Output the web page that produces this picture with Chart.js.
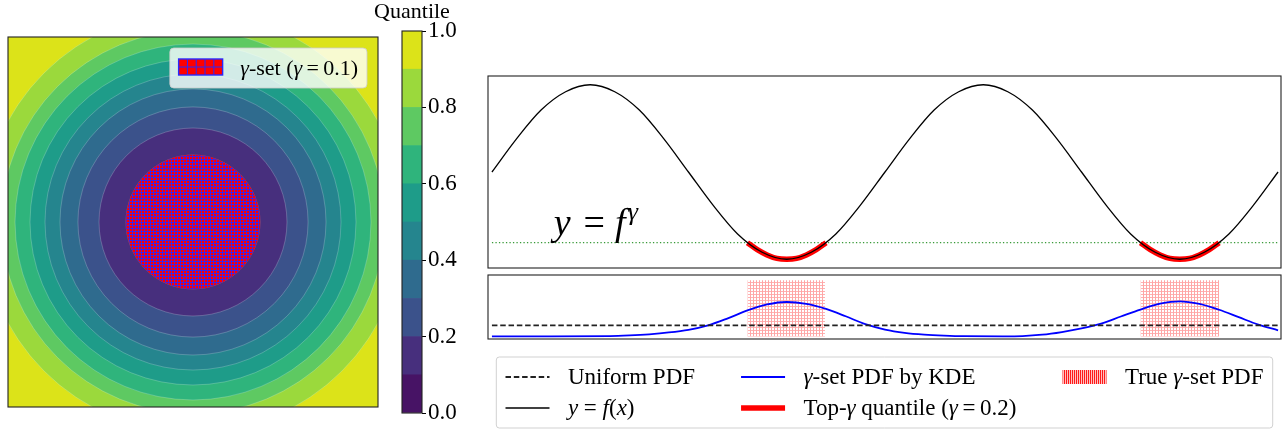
<!DOCTYPE html>
<html>
<head>
<meta charset="utf-8">
<script src="https://cdn.jsdelivr.net/npm/chart.js@4"></script>
<style>
  html, body { margin: 0; padding: 0; background: #fff; }
  body { width: 1283px; height: 432px; position: relative; overflow: hidden; }
  canvas { position: absolute; }
</style>
</head>
<body>
<canvas id="contour" width="390" height="432" style="left:0px;top:0px"></canvas>
<canvas id="cbar" width="110" height="432" style="left:360px;top:0px"></canvas>
<canvas id="curve" width="803" height="200" style="left:480px;top:70px"></canvas>
<canvas id="pdf" width="803" height="162" style="left:480px;top:270px"></canvas>
<script>
// left panel: quantile levels and the radius of each level boundary (axes run -1..1)
const quantileEdges = [0.0, 0.1, 0.2, 0.3, 0.4, 0.5, 0.6, 0.7, 0.8, 0.9, 1.0];
const ringRadius = [0.362, 0.508, 0.622, 0.719, 0.80, 0.881, 0.962, 1.036, 1.139, 1.5];
const bandColors = ['#471365', '#472f7d', '#3b528b', '#2f6b8e', '#25858e',
                    '#1e9c89', '#2fb47c', '#5ec962', '#9bd93c', '#dce319'];
const gammaSetRadius = 0.362;

// right top panel: y = f(x), in quarter periods
const curveX = [0, 0.25, 0.5, 0.75, 1, 1.25, 1.5, 1.75, 2, 2.25, 2.5, 2.75, 3, 3.25, 3.5, 3.75, 4,
                4.25, 4.5, 4.75, 5, 5.25, 5.5, 5.75, 6, 6.25, 6.5, 6.75, 7, 7.25, 7.5, 7.75, 8];
const curveY = [0, 0.38, 0.71, 0.92, 1, 0.92, 0.71, 0.38, 0, -0.38, -0.71, -0.92, -1, -0.92, -0.71, -0.38, 0,
                0.38, 0.71, 0.92, 1, 0.92, 0.71, 0.38, 0, -0.38, -0.71, -0.92, -1, -0.92, -0.71, -0.38, 0];
const topX1 = [2.6, 2.7, 2.8, 2.9, 3.0, 3.1, 3.2, 3.3, 3.4];
const topX2 = [6.6, 6.7, 6.8, 6.9, 7.0, 7.1, 7.2, 7.3, 7.4];
const topY = [-0.81, -0.89, -0.95, -0.99, -1, -0.99, -0.95, -0.89, -0.81];
const threshold = -0.81;

// right bottom panel: densities
const kdeX = [0, 0.6, 1.2, 1.4, 1.6, 1.8, 2.0, 2.2, 2.4, 2.6, 2.8, 3.0, 3.2, 3.4, 3.6, 3.8, 4.0, 4.2, 4.4, 4.6,
              4.8, 5.2, 5.4, 5.6, 5.8, 6.0, 6.2, 6.4, 6.6, 6.8, 7.0, 7.2, 7.4, 7.6, 7.8, 8.0];
const kdeY = [0.02, 0.02, 0.04, 0.1, 0.2, 0.36, 0.6, 1.0, 1.62, 2.32, 2.85, 3.07, 2.9, 2.45, 1.8, 1.1, 0.62, 0.33,
              0.17, 0.08, 0.03, 0.02, 0.04, 0.16, 0.4, 0.72, 1.15, 1.78, 2.4, 2.92, 3.13, 2.9, 2.38, 1.72, 1.06, 0.55];
const uniformPdf = 1.0;
const trueSetRanges = [[2.6, 3.39], [6.6, 7.4]];
const trueSetPdf = 5.0;

const SERIF = '"Liberation Serif", "DejaVu Serif", serif';
Chart.defaults.font.family = SERIF;
Chart.defaults.animation = false;
Chart.defaults.events = [];
Chart.defaults.plugins.legend.display = false;
Chart.defaults.plugins.tooltip.enabled = false;

function makePattern(w, h, draw) {
    const c = document.createElement('canvas');
    c.width = w; c.height = h;
    const g = c.getContext('2d');
    draw(g);
    return g.createPattern(c, 'repeat');
}
const gammaHatch = makePattern(3, 3, g => {
    g.fillStyle = '#ff0000'; g.fillRect(0, 0, 3, 3);
    g.fillStyle = 'rgba(40,40,255,0.85)'; g.fillRect(0, 0, 3, 1); g.fillRect(0, 0, 1, 3);
});
const trueHatch = makePattern(3, 3, g => {
    g.fillStyle = 'rgba(255,0,0,0.35)'; g.fillRect(0, 0, 1, 3);
    g.fillStyle = 'rgba(255,0,0,0.3)'; g.fillRect(1, 0, 2, 1);
});
const trueHatchLegend = makePattern(2, 1, g => {
    g.fillStyle = 'rgba(255,0,0,0.9)'; g.fillRect(0, 0, 1, 1);
    g.fillStyle = 'rgba(255,0,0,0.25)'; g.fillRect(1, 0, 1, 1);
});

// draws text with γ (and math letters) in italic, returns width
function richText(ctx, text, x, y, size, math, dry) {
    const italic = math ? 'γyfx' : 'γ';
    let cx = x, run = '', runIt = null;
    const flush = () => {
        if (!run) return;
        ctx.font = (runIt ? 'italic ' : '') + size + 'px ' + SERIF;
        if (!dry) ctx.fillText(run, cx, y);
        cx += ctx.measureText(run).width;
        run = '';
    };
    for (const ch of text) {
        const it = italic.includes(ch);
        if (it !== runIt) { flush(); runIt = it; }
        run += ch;
    }
    flush();
    return cx - x;
}

function roundBox(ctx, x, y, w, h, r, fill, stroke) {
    ctx.beginPath();
    ctx.roundRect(x, y, w, h, r);
    ctx.fillStyle = fill; ctx.fill();
    ctx.strokeStyle = stroke; ctx.lineWidth = 1; ctx.stroke();
}

const frame = {
    id: 'frame',
    afterDatasetsDraw(chart) {
        const {ctx, chartArea: a} = chart;
        ctx.save();
        ctx.strokeStyle = '#222';
        ctx.lineWidth = 1.1;
        ctx.strokeRect(a.left, a.top, a.right - a.left, a.bottom - a.top);
        ctx.restore();
    }
};

// ---------- left: quantile contours ----------
const rings = ringRadius.map((r, i) => ({r: r, c: bandColors[i]})).reverse();
const toPx = (chart, r) => chart.scales.x.getPixelForValue(r) - chart.scales.x.getPixelForValue(0);

const contourLegend = {
    id: 'contourLegend',
    afterDraw(chart) {
        const {ctx, chartArea: a} = chart;
        const fs = 22, label = 'γ-set (γ\u2009=\u20090.1)';
        const tw = richText(ctx, label, 0, 0, fs, false, true);
        const w = 0.4 * fs + 2 * fs + 0.8 * fs + tw + 0.4 * fs, h = 40;
        const left = a.right - 0.5 * fs - w, top = a.top + 0.5 * fs;
        ctx.save();
        roundBox(ctx, left, top, w, h, 4, 'rgba(255,255,255,0.8)', 'rgba(204,204,204,0.8)');
        const px = left + 0.4 * fs, py = top + 11, pw = 2 * fs, ph = 16;
        ctx.fillStyle = '#ff0000';
        ctx.fillRect(px, py, pw, ph);
        ctx.strokeStyle = '#2828ff';
        ctx.lineWidth = 1;
        ctx.beginPath();
        for (let gx = px + 8.8; gx < px + pw - 1; gx += 8.8) { ctx.moveTo(gx, py); ctx.lineTo(gx, py + ph); }
        ctx.moveTo(px, py + ph / 2); ctx.lineTo(px + pw, py + ph / 2);
        ctx.stroke();
        ctx.lineWidth = 1.4;
        ctx.strokeRect(px, py, pw, ph);
        ctx.fillStyle = '#000';
        ctx.textBaseline = 'middle';
        richText(ctx, label, px + pw + 0.8 * fs, top + h / 2 + 1, fs, false, false);
        ctx.restore();
    }
};

new Chart(document.getElementById('contour'), {
    type: 'scatter',
    data: {
        datasets: [{
            label: 'γ-set (γ = 0.1)',
            data: [{x: 0, y: 0}],
            pointRadius: ctx => toPx(ctx.chart, gammaSetRadius),
            pointBackgroundColor: gammaHatch,
            pointBorderColor: 'rgba(255,0,0,0.6)',
            pointBorderWidth: 0.5,
            clip: 0
        }, {
            label: 'Quantile',
            data: rings.map(() => ({x: 0, y: 0})),
            pointRadius: ctx => toPx(ctx.chart, rings[ctx.dataIndex].r),
            pointBackgroundColor: ctx => rings[ctx.dataIndex].c,
            pointBorderColor: 'rgba(255,255,255,0.3)',
            pointBorderWidth: 0.7,
            clip: 0
        }]
    },
    options: {
        responsive: false,
        layout: {padding: {left: 8, top: 37, right: 12, bottom: 25}},
        scales: {
            x: {type: 'linear', min: -1, max: 1, display: false},
            y: {type: 'linear', min: -1, max: 1, display: false}
        }
    },
    plugins: [frame, contourLegend]
});

// ---------- colorbar ----------
const cbarTitle = {
    id: 'cbarTitle',
    afterDraw(chart) {
        const {ctx, chartArea: a} = chart;
        ctx.save();
        ctx.font = '22px ' + SERIF;
        ctx.fillStyle = '#000';
        ctx.textAlign = 'center';
        ctx.textBaseline = 'alphabetic';
        ctx.fillText('Quantile', (a.left + a.right) / 2, 18);
        ctx.restore();
    }
};

new Chart(document.getElementById('cbar'), {
    type: 'bar',
    data: {
        labels: [''],
        datasets: bandColors.map((c, i) => ({
            label: quantileEdges[i] + '-' + quantileEdges[i + 1],
            data: [[quantileEdges[i], quantileEdges[i + 1]]],
            backgroundColor: c,
            borderWidth: 0,
            grouped: false,
            categoryPercentage: 1,
            barPercentage: 1
        }))
    },
    options: {
        responsive: false,
        layout: {padding: {left: 42, top: 31, right: 3, bottom: 19}},
        scales: {
            x: {display: false},
            y: {
                position: 'right',
                min: 0, max: 1,
                ticks: {stepSize: 0.2, callback: v => v.toFixed(1), color: '#000', font: {size: 23}, padding: 2},
                grid: {drawOnChartArea: false, tickLength: 4, color: '#000'},
                border: {display: false},
                afterFit(s) { s.width = 45; }
            }
        }
    },
    plugins: [frame, cbarTitle]
});

// ---------- right top: y = f(x) ----------
const fLabelPos = {x: 0.63, y: -0.72};
const fLabel = {
    id: 'fLabel',
    afterDatasetsDraw(chart) {
        const {ctx, scales} = chart;
        const fs = 38;
        let x = scales.x.getPixelForValue(fLabelPos.x);
        const base = scales.y.getPixelForValue(fLabelPos.y);
        ctx.save();
        ctx.fillStyle = '#000';
        ctx.textBaseline = 'alphabetic';
        ctx.font = 'italic ' + fs + 'px ' + SERIF;
        ctx.fillText('y', x, base);
        x += ctx.measureText('y').width + 0.34 * fs;
        ctx.font = fs + 'px ' + SERIF;
        ctx.fillText('=', x, base);
        x += ctx.measureText('=').width + 0.26 * fs;
        ctx.font = 'italic ' + fs + 'px ' + SERIF;
        ctx.fillText('f', x, base);
        x += ctx.measureText('f').width + 0.06 * fs;
        ctx.font = 'italic 26px ' + SERIF;
        ctx.fillText('γ', x, base - 15);
        ctx.restore();
    }
};

const dsCurve = {
    label: 'y = f(x)',
    data: curveX.map((x, i) => ({x: x, y: curveY[i]})),
    borderColor: '#000', borderWidth: 1.3, pointRadius: 0,
    cubicInterpolationMode: 'monotone'
};
const dsTop = {
    label: 'Top-γ quantile (γ\u2009=\u20090.2)',
    data: topX1.map((x, i) => ({x: x, y: topY[i]})),
    borderColor: '#ff0000', borderWidth: 5.5, pointRadius: 0,
    cubicInterpolationMode: 'monotone'
};
const dsTop2 = Object.assign({}, dsTop, {data: topX2.map((x, i) => ({x: x, y: topY[i]}))});
const dsThreshold = {
    label: 'threshold',
    data: [{x: 0, y: threshold}, {x: 8, y: threshold}],
    borderColor: '#3a9a3a', borderWidth: 1.3, borderDash: [1.3, 2.2], pointRadius: 0
};

new Chart(document.getElementById('curve'), {
    type: 'line',
    data: {datasets: [dsCurve, dsTop, dsTop2, dsThreshold]},
    options: {
        responsive: false,
        layout: {padding: {left: 8, top: 6, right: 2, bottom: 2}},
        scales: {
            x: {type: 'linear', min: -0.04, max: 8.03, display: false},
            y: {min: -1.1, max: 1.1, display: false}
        }
    },
    plugins: [frame, fLabel]
});

// ---------- right bottom: densities + shared legend ----------
const dsUniform = {
    label: 'Uniform PDF',
    data: [{x: 0, y: uniformPdf}, {x: 8, y: uniformPdf}],
    borderColor: '#222', borderWidth: 1.8, borderDash: [5.5, 2.8], pointRadius: 0
};
const dsKde = {
    label: 'γ-set PDF by KDE',
    data: kdeX.map((x, i) => ({x: x, y: kdeY[i]})),
    borderColor: '#0000ff', borderWidth: 1.8, pointRadius: 0,
    cubicInterpolationMode: 'monotone'
};
const dsTrue = trueSetRanges.map(r => ({
    label: 'True γ-set PDF',
    data: [{x: r[0], y: trueSetPdf}, {x: r[1], y: trueSetPdf}],
    borderWidth: 0, pointRadius: 0,
    backgroundColor: trueHatch,
    fill: 'origin'
}));

const legendColumns = [
    [{ds: dsUniform}, {ds: dsCurve, math: true}],
    [{ds: dsKde}, {ds: dsTop}],
    [{ds: dsTrue[0], patch: trueHatchLegend}]
];

const bottomLegend = {
    id: 'bottomLegend',
    afterDraw(chart) {
        const {ctx, chartArea: a} = chart;
        const fs = 23, handle = 44, hpad = 0.8 * fs, colGap = 2 * fs, pad = 0.4 * fs;
        const colW = legendColumns.map(col =>
            Math.max(...col.map(it => richText(ctx, it.ds.label, 0, 0, fs, it.math, true))));
        let w = pad * 2;
        colW.forEach((cw, i) => { w += handle + hpad + cw + (i < colW.length - 1 ? colGap : 0); });
        const h = 71;
        const left = (a.left + a.right) / 2 - w / 2, top = a.bottom + 18;
        ctx.save();
        roundBox(ctx, left, top, w, h, 3, 'rgba(255,255,255,0.8)', 'rgba(204,204,204,0.9)');
        let x = left + pad;
        legendColumns.forEach((col, ci) => {
            col.forEach((it, ri) => {
                const y = top + 20 + ri * 31;
                if (it.patch) {
                    ctx.fillStyle = it.patch;
                    ctx.fillRect(x, y - 7, handle, 14);
                } else {
                    ctx.beginPath();
                    ctx.setLineDash(it.ds.borderDash || []);
                    ctx.lineWidth = it.ds.borderWidth;
                    ctx.strokeStyle = it.ds.borderColor;
                    ctx.moveTo(x, y); ctx.lineTo(x + handle, y);
                    ctx.stroke();
                    ctx.setLineDash([]);
                }
                ctx.fillStyle = '#000';
                ctx.textBaseline = 'middle';
                richText(ctx, it.ds.label, x + handle + hpad, y + 1, fs, it.math, false);
            });
            x += handle + hpad + colW[ci] + colGap;
        });
        ctx.restore();
    }
};

new Chart(document.getElementById('pdf'), {
    type: 'line',
    data: {datasets: [dsUniform, dsKde].concat(dsTrue)},
    options: {
        responsive: false,
        layout: {padding: {left: 8, top: 5, right: 2, bottom: 93}},
        scales: {
            x: {type: 'linear', min: -0.04, max: 8.03, display: false},
            y: {min: -0.22, max: 5.47, display: false}
        }
    },
    plugins: [frame, bottomLegend]
});
</script>
</body>
</html>
